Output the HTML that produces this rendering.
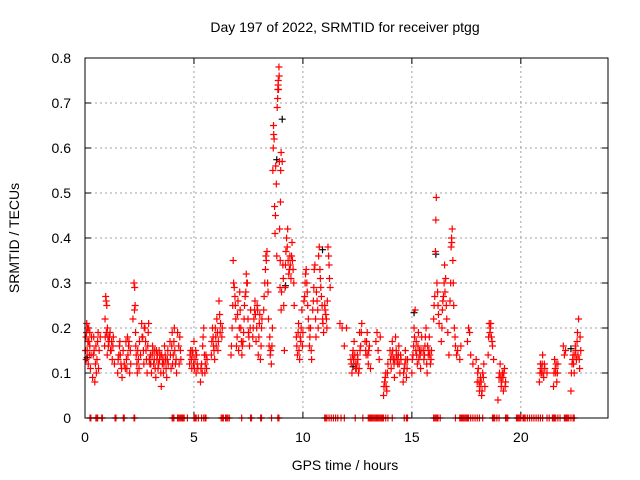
<!DOCTYPE html>
<html><head><meta charset="utf-8">
<style>
body{margin:0;background:#fff;}
svg{display:block;font-family:"Liberation Sans",sans-serif;}
</style></head>
<body>
<svg id="chart" width="640" height="480" viewBox="0 0 640 480">
<text x="345" y="32" font-size="14" text-anchor="middle">Day 197 of 2022, SRMTID for receiver ptgg</text>
<text x="345" y="470" font-size="14" text-anchor="middle">GPS time / hours</text>
<text x="0" y="0" font-size="14" text-anchor="middle" transform="translate(19,238) rotate(-90)">SRMTID / TECUs</text>
<g id="grid"></g><g id="ticks"></g><g id="marks"></g>
<rect x="85" y="58" width="523" height="360" fill="none" stroke="#000" stroke-width="1"/>
</svg>
<script>
const xTicks=[0,5,10,15,20];
const yTicks=[0,0.1,0.2,0.3,0.4,0.5,0.6,0.7,0.8];
const yTickLabels=["0","0.1","0.2","0.3","0.4","0.5","0.6","0.7","0.8"];
const redData=[[0.05,.13],[0.05,.18],[0.08,.21],[0.1,.15],[0.12,.2],[0.15,.12],[0.18,.17],[0.2,.14],[0.22,.19],[0.25,.11],
[0.35,.09],[0.38,.14],[0.4,.18],[0.45,.08],[0.48,.12],[0.5,.16],[0.55,.13],[0.6,.19],[0.62,.11],
[0.9,.16],[0.92,.22],[0.95,.27],[0.98,.19],[1.0,.25],[1.02,.14],[1.05,.18],[1.1,.17],[1.15,.19],[1.2,.15],[1.25,.13],[1.3,.18],[1.35,.12],
[1.5,.1],[1.55,.14],[1.6,.17],[1.65,.12],[1.7,.09],[1.75,.15],[1.85,.11],[1.9,.13],[1.95,.18],[2.0,.16],[2.05,.1],[2.1,.12],
[2.2,.22],[2.25,.3],[2.28,.29],[2.3,.25],[2.32,.19],[2.35,.14],[2.4,.1],[2.45,.13],[2.5,.17],
[2.6,.21],[2.65,.18],[2.7,.12],[2.75,.2],[2.8,.15],[2.85,.1],[2.9,.19],[2.95,.13],
[3.0,.14],[3.05,.1],[3.1,.16],[3.15,.12],[3.2,.15],[3.25,.09],[3.3,.13],[3.35,.11],[3.4,.15],[3.45,.14],[3.5,.07],[3.55,.12],[3.6,.1],[3.65,.16],[3.7,.13],[3.75,.09],[3.8,.15],
[3.9,.17],[3.95,.11],[4.0,.19],[4.05,.14],[4.1,.2],[4.15,.12],[4.2,.1],[4.3,.16],[4.35,.18],[4.4,.13],
[4.8,.12],[4.85,.15],[4.9,.11],[4.95,.14],[5.0,.17],[5.05,.13],[5.1,.1],[5.15,.12],
[5.3,.08],[5.35,.12],[5.4,.16],[5.45,.2],[5.5,.1],[5.55,.14],[5.6,.13],
[5.8,.14],[5.85,.2],[5.9,.16],[5.95,.13],[6.0,.18],[6.05,.22],[6.1,.15],[6.15,.26],[6.2,.19],[6.3,.2],
[6.7,.14],[6.75,.2],[6.8,.35],[6.85,.29],[6.9,.25],[6.95,.16],[7.0,.23],[7.05,.15],[7.1,.28],[7.15,.2],
[7.2,.14],[7.25,.17],[7.3,.22],[7.35,.27],[7.4,.32],[7.45,.3],[7.5,.19],[7.55,.16],[7.6,.24],
[7.7,.18],[7.75,.22],[7.8,.26],[7.85,.17],[7.9,.25],[7.95,.14],[8.0,.21],[8.05,.13],[8.1,.2],
[8.2,.24],[8.25,.3],[8.3,.36],[8.35,.37],[8.4,.28],[8.45,.16],[8.5,.14],[8.55,.12],[8.6,.2],
[8.62,.55],[8.65,.65],[8.68,.62],[8.7,.47],[8.72,.41],[8.75,.56],[8.78,.52],[8.8,.36],[8.82,.69],[8.85,.73],[8.87,.75],[8.9,.78],[8.92,.57],[8.95,.29],[8.97,.48],[9.0,.59],
[9.0,.24],[9.05,.57],[9.1,.31],[9.12,.25],[9.15,.15],[9.2,.34],[9.25,.4],[9.3,.42],[9.35,.32],[9.4,.36],[9.45,.31],[9.5,.39],[9.55,.33],[9.6,.25],
[9.7,.18],[9.75,.14],[9.8,.21],[9.85,.13],[9.9,.17],[9.95,.24],[10.0,.19],
[10.05,.26],[10.1,.3],[10.15,.33],[10.2,.28],[10.25,.22],[10.3,.16],[10.35,.2],[10.4,.13],
[10.45,.24],[10.5,.29],[10.55,.34],[10.6,.18],[10.65,.26],[10.7,.2],[10.75,.38],[10.8,.31],[10.85,.27],[10.9,.22],[10.95,.19],
[11.0,.25],[11.05,.23],[11.1,.2],[11.15,.38],[11.2,.34],[11.25,.29],
[11.7,.21],[11.8,.2],[11.9,.16],[12.0,.2],
[12.2,.13],[12.25,.1],[12.3,.15],[12.35,.17],[12.4,.12],[12.45,.11],[12.5,.14],[12.55,.1],[12.6,.19],[12.65,.16],[12.7,.21],
[12.85,.17],[12.9,.14],[12.95,.19],[13.0,.12],[13.05,.16],[13.1,.11],
[13.35,.17],[13.4,.19],[13.45,.15],[13.5,.13],[13.55,.18],
[13.7,.05],[13.75,.08],[13.8,.1],[13.85,.06],[13.9,.12],
[14.0,.15],[14.05,.11],[14.1,.17],[14.15,.13],[14.2,.09],[14.25,.18],[14.3,.14],[14.35,.12],[14.4,.16],[14.45,.1],[14.5,.13],
[14.6,.08],[14.65,.11],[14.7,.15],[14.75,.09],[14.8,.13],
[15.0,.1],[15.05,.14],[15.1,.2],[15.15,.24],[15.2,.17],[15.25,.12],[15.3,.19],[15.35,.15],[15.4,.11],[15.45,.18],
[15.55,.13],[15.6,.16],[15.65,.2],[15.7,.1],[15.75,.14],[15.8,.18],[15.85,.12],[15.9,.15],
[16.0,.22],[16.05,.27],[16.08,.37],[16.1,.44],[16.12,.49],[16.15,.3],[16.2,.25],[16.25,.21],
[16.35,.17],[16.4,.24],[16.45,.27],[16.5,.34],[16.55,.31],[16.6,.22],[16.65,.19],[16.7,.14],
[16.75,.26],[16.8,.38],[16.82,.4],[16.85,.42],[16.9,.3],[16.95,.2],[17.0,.16],[17.05,.14],
[17.1,.15],[17.2,.13],[17.25,.16],
[17.55,.17],[17.6,.2],[17.65,.19],[17.7,.14],[17.8,.12],
[17.95,.13],[18.0,.08],[18.05,.11],[18.1,.06],[18.15,.09],[18.2,.05],[18.25,.1],[18.3,.12],[18.35,.07],
[18.5,.14],[18.55,.21],[18.6,.2],[18.65,.18],[18.7,.16],[18.75,.13],
[18.95,.04],[19.0,.09],[19.05,.12],[19.1,.07],[19.15,.1],[19.2,.06],[19.25,.11],[19.3,.08],
[20.85,.08],[20.9,.12],[20.95,.1],[21.0,.14],[21.05,.09],[21.1,.11],[21.2,.1],
[21.5,.07],[21.55,.13],[21.6,.1],[21.65,.08],[21.7,.12],
[21.95,.16],[22.0,.14],[22.05,.15],
[22.3,.06],[22.35,.12],[22.4,.14],[22.45,.1],[22.5,.16],[22.55,.13],[22.6,.19],[22.65,.22],[22.7,.11],[22.75,.15]];
const redData2=[[0.02,.15],[0.07,.19],[0.13,.17],[0.17,.2],[0.22,.16],[0.28,.14],[0.3,.18],[0.42,.15],[0.52,.1],[0.58,.17],[0.65,.15],[0.7,.18],
[0.93,.18],[0.97,.26],[1.03,.2],[1.07,.16],[1.12,.18],[1.17,.15],[1.22,.17],[1.28,.16],
[1.52,.13],[1.58,.16],[1.62,.14],[1.68,.11],[1.8,.12],[1.88,.17],[1.92,.11],[1.97,.14],[2.02,.17],[2.08,.15],
[2.27,.24],[2.33,.16],[2.38,.12],[2.42,.15],[2.48,.11],[2.55,.14],[2.62,.18],[2.68,.15],[2.72,.2],[2.78,.17],[2.82,.13],[2.88,.16],[2.92,.21],[2.98,.12],
[3.02,.12],[3.08,.14],[3.12,.15],[3.18,.13],[3.22,.11],[3.28,.15],[3.32,.14],[3.38,.12],[3.42,.13],[3.48,.1],[3.52,.14],[3.58,.13],[3.62,.12],[3.68,.14],[3.72,.11],[3.78,.13],[3.82,.12],
[3.92,.14],[3.98,.16],[4.02,.12],[4.08,.17],[4.12,.15],[4.18,.13],[4.25,.19],[4.32,.12],[4.38,.15],
[4.82,.14],[4.88,.13],[4.92,.15],[4.98,.12],[5.02,.11],[5.08,.15],[5.12,.14],[5.18,.11],
[5.32,.11],[5.38,.1],[5.42,.18],[5.48,.14],[5.52,.12],[5.58,.11],
[5.82,.17],[5.88,.18],[5.92,.15],[5.98,.2],[6.02,.16],[6.08,.19],[6.12,.17],[6.18,.23],[6.22,.21],[6.28,.18],
[6.72,.16],[6.78,.25],[6.82,.3],[6.88,.27],[6.92,.22],[6.98,.18],[7.02,.26],[7.08,.2],[7.12,.24],[7.18,.17],
[7.22,.16],[7.28,.19],[7.32,.25],[7.38,.28],[7.42,.3],[7.48,.22],[7.52,.18],[7.58,.2],
[7.72,.2],[7.78,.24],[7.82,.23],[7.88,.2],[7.92,.24],[7.98,.18],[8.02,.23],[8.08,.16],[8.12,.22],
[8.22,.27],[8.28,.33],[8.32,.35],[8.38,.3],[8.42,.22],[8.48,.18],[8.52,.15],[8.58,.16],
[8.64,.6],[8.66,.63],[8.74,.45],[8.84,.71],[8.86,.74],[8.88,.73],[8.91,.76],[8.93,.42],[8.96,.35],[8.98,.55],
[9.02,.28],[9.08,.34],[9.18,.29],[9.22,.37],[9.28,.38],[9.32,.35],[9.38,.33],[9.42,.34],[9.48,.36],[9.52,.35],[9.58,.3],
[9.72,.16],[9.78,.19],[9.82,.15],[9.88,.18],[9.92,.2],[9.98,.16],
[10.08,.27],[10.12,.32],[10.18,.3],[10.22,.25],[10.28,.2],[10.32,.18],[10.38,.15],
[10.48,.26],[10.52,.33],[10.58,.22],[10.62,.28],[10.68,.24],[10.72,.36],[10.78,.33],[10.82,.29],[10.88,.25],[10.92,.21],
[11.02,.24],[11.08,.22],[11.12,.26],[11.18,.36],[11.22,.31],
[12.22,.12],[12.28,.14],[12.32,.13],[12.38,.14],[12.42,.11],[12.48,.12],[12.52,.13],[12.58,.11],[12.62,.15],[12.68,.19],
[12.88,.15],[12.92,.17],[12.98,.14],[13.02,.15],
[13.72,.07],[13.78,.09],[13.82,.07],[13.88,.1],
[14.02,.13],[14.08,.14],[14.12,.15],[14.18,.12],[14.22,.13],[14.28,.15],[14.32,.13],[14.38,.14],[14.42,.12],[14.48,.14],
[14.62,.1],[14.68,.12],[14.72,.13],[14.78,.11],
[15.02,.13],[15.08,.16],[15.12,.18],[15.18,.15],[15.22,.14],[15.28,.16],[15.32,.13],[15.38,.14],[15.42,.15],
[15.52,.15],[15.58,.14],[15.62,.18],[15.68,.12],[15.72,.16],[15.78,.15],[15.82,.14],[15.88,.13],
[16.02,.25],[16.18,.28],[16.22,.23],[16.38,.2],[16.42,.26],[16.48,.3],[16.52,.28],[16.58,.25],
[16.78,.3],[16.83,.39],[16.88,.35],[16.92,.25],[16.98,.18],
[18.02,.1],[18.08,.08],[18.12,.07],[18.18,.08],[18.22,.06],[18.28,.09],
[18.52,.18],[18.58,.19],[18.62,.21],[18.68,.17],
[19.02,.1],[19.08,.09],[19.12,.08],[19.18,.09],[19.22,.1],[19.28,.07],
[20.88,.1],[20.92,.11],[20.98,.12],[21.02,.1],[21.08,.12],
[21.52,.1],[21.58,.11],[21.62,.12],[21.68,.1],
[22.32,.1],[22.38,.13],[22.42,.12],[22.48,.14],[22.52,.15],[22.58,.17],[22.62,.14],[22.68,.13],[22.72,.18]];
const blackData=[[0.1,.14],[8.8,.58],[9.05,.67],[9.2,.3],[10.9,.38],[12.3,.12],[15.1,.24],[16.1,.37],[22.3,.16]];
const zeroHours=[0.23,0.27,0.5,0.54,0.58,0.77,0.8,1.38,1.42,1.76,1.8,2.25,2.28,4.0,4.04,4.08,4.25,4.3,4.35,4.4,4.45,4.5,4.55,4.7,5.0,5.05,5.1,5.2,5.35,5.45,5.52,5.55,6.25,6.3,6.35,6.45,6.5,6.55,6.62,7.19,7.6,7.64,8.06,8.1,8.56,8.85,8.9,11.0,11.05,11.1,11.2,11.3,11.4,11.5,11.6,11.75,11.9,12.4,12.75,13.0,13.05,13.1,13.15,13.2,13.25,13.3,13.35,13.4,13.45,13.5,13.55,13.6,13.65,13.7,13.8,13.9,14.1,14.65,14.75,14.8,16.0,16.05,16.1,16.15,16.2,16.3,17.0,17.2,17.25,17.3,17.35,17.4,17.45,17.5,17.55,17.6,17.7,17.8,17.9,18.0,18.1,18.25,18.7,18.75,18.8,18.9,19.0,19.3,19.35,19.4,19.8,19.85,19.9,19.95,20.0,20.1,20.15,20.2,20.3,20.4,20.5,20.6,20.7,20.8,20.9,21.0,21.2,21.3,21.45,21.5,21.55,21.6,21.7,21.8,22.0,22.05,22.1,22.15,22.2,22.3,22.4,22.45];
const NS='http://www.w3.org/2000/svg';
const X0=85,X1=608,Y0=418,Y1=58,XMAX=24,YMAX=0.8;
function xs(h){return X0+(X1-X0)*h/XMAX;}
function ys(v){return Y0-(Y0-Y1)*v/YMAX;}
const grid=document.getElementById('grid'),ticks=document.getElementById('ticks'),marks=document.getElementById('marks');
function mk(tag,attrs,parent){const e=document.createElementNS(NS,tag);for(const k in attrs)e.setAttribute(k,attrs[k]);parent.appendChild(e);return e;}
xTicks.forEach(t=>{const x=xs(t);
 if(t>0){const g=mk('line',{x1:x,x2:x,y1:Y0,y2:Y1,stroke:'#a0a0a0','stroke-dasharray':'2,3'},grid);
 
 }
 mk('line',{x1:x,x2:x,y1:Y0,y2:Y0-6,stroke:'#000'},ticks);mk('line',{x1:x,x2:x,y1:Y1,y2:Y1+6,stroke:'#000'},ticks);
 const l=mk('text',{x:x,y:Y0+24,'font-size':14,'text-anchor':'middle'},ticks);l.textContent=t;
 
 });
yTicks.forEach((t,i)=>{const y=ys(t);
 if(t>0&&t<YMAX){const g=mk('line',{x1:X0,x2:X1,y1:y,y2:y,stroke:'#a0a0a0','stroke-dasharray':'2,3'},grid);
 
 }
 mk('line',{x1:X0,x2:X0+6,y1:y,y2:y,stroke:'#000'},ticks);mk('line',{x1:X1,x2:X1-6,y1:y,y2:y,stroke:'#000'},ticks);
 const l=mk('text',{x:X0-14,y:y+5,'font-size':14,'text-anchor':'end'},ticks);l.textContent=yTickLabels[i];
 
 });
function plus(h,v,col){const x=xs(h),y=ys(v);
 return mk('path',{d:`M${x-3.5},${y}H${x+3.5}M${x},${y-3.5}V${y+3.5}`,stroke:col,'stroke-width':1.2,fill:'none'},marks);}
blackData.forEach(d=>{const p=plus(d[0],d[1]-0.006,'#000');
 
 });
redData.concat(redData2).forEach(d=>{const p=plus(d[0],d[1],'#ff0000');
 
 });
zeroHours.forEach(h=>{const p=plus(h,0,'#ff0000');
 
 });
</script>
</body></html>
